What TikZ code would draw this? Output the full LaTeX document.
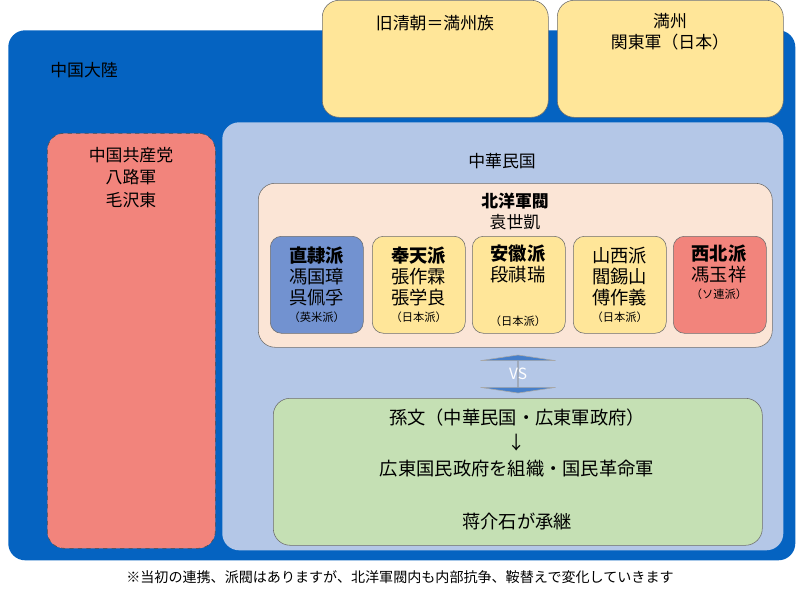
\documentclass[tikz,border=0pt]{standalone}
\usepackage{fontspec}
\setmainfont{Noto Sans CJK JP}
\usetikzlibrary{shapes.arrows,positioning}
\definecolor{landblue}{RGB}{5,99,193}
\definecolor{roclight}{RGB}{180,199,231}
\definecolor{warpeach}{RGB}{251,229,214}
\definecolor{facyellow}{RGB}{255,230,153}
\definecolor{facblue}{RGB}{114,146,208}
\definecolor{facred}{RGB}{242,132,124}
\definecolor{kmtgreen}{RGB}{197,224,180}
\definecolor{edgegray}{RGB}{110,110,110}
\begin{document}
\begin{tikzpicture}[x=0.025cm, y=-0.025cm,
    region/.style={rectangle, rounded corners=12pt, anchor=north west, inner sep=0pt},
    faction/.style={rectangle, rounded corners=8pt, draw=edgegray, anchor=north west,
        minimum width=93*0.025cm, minimum height=97*0.025cm, align=center, inner sep=2pt,
        font=\fontsize{13}{15}\selectfont},
    note/.style={font=\fontsize{7}{9}\selectfont}
]
    \useasboundingbox (0,0) rectangle (800,600);

    % Continent
    \node[region, fill=landblue, minimum width=787*0.025cm, minimum height=530*0.025cm] (land) at (8,30) {};
    \node[font=\fontsize{12}{14}\selectfont] (landlbl) at (84,70) {中国大陸};

    % Top boxes
    \node[region, fill=facyellow, draw=edgegray, minimum width=226*0.025cm, minimum height=117*0.025cm] (qing) at (322,0) {};
    \node[font=\fontsize{12}{14}\selectfont, anchor=north] (qinglbl) at (435,10) {旧清朝＝満州族};
    \node[region, fill=facyellow, draw=edgegray, minimum width=226*0.025cm, minimum height=117*0.025cm] (manchu) at (557,0) {};
    \node[font=\fontsize{12}{15}\selectfont, align=center, anchor=north] (manchulbl) at (670,8) {満州\\関東軍（日本）};

    % Communists
    \node[region, fill=facred, draw=black!70, dashed, minimum width=168*0.025cm, minimum height=415*0.025cm] (ccp) at (47,133) {};
    \node[font=\fontsize{12}{16}\selectfont, align=center, anchor=north] (ccplbl) at (131,142) {中国共産党\\八路軍\\毛沢東};

    % Republic
    \node[region, fill=roclight, minimum width=561*0.025cm, minimum height=428*0.025cm] (roc) at (222,122) {};
    \node[font=\fontsize{12}{14}\selectfont] (roclbl) at (502,161) {中華民国};

    % Beiyang
    \node[region, fill=warpeach, draw=edgegray, minimum width=514*0.025cm, minimum height=164*0.025cm] (beiyang) at (258,183) {};
    \node[font=\fontsize{12}{15}\selectfont, align=center, anchor=north] (beiyanglbl) at (515,188) {\textbf{北洋軍閥}\\袁世凱};

    \node[faction, fill=facblue] (zhili) at (270,236) {\textbf{直隷派}\\馮国璋\\呉佩孚\\[-3pt]{\fontsize{8}{9}\selectfont（英米派）}};
    \node[faction, fill=facyellow] (fengtian) at (372,236) {\textbf{奉天派}\\張作霖\\張学良\\[-3pt]{\fontsize{8}{9}\selectfont（日本派）}};
    \node[faction, fill=facyellow, align=center] (anhui) at (472,236) {};
    \node[font=\fontsize{13}{15}\selectfont, align=center, anchor=north] (anhuilbl) at (518,240) {\textbf{安徽派}\\段祺瑞};
    \node[note, font=\fontsize{8}{9}\selectfont, anchor=south] (anhuinote) at (518,332) {（日本派）};
    \node[faction, fill=facyellow] (shanxi) at (573,236) {山西派\\閻錫山\\傅作義\\[-3pt]{\fontsize{8}{9}\selectfont（日本派）}};
    \node[faction, fill=facred, align=center] (xibei) at (673,236) {};
    \node[font=\fontsize{13}{15}\selectfont, align=center, anchor=north] (xibeilbl) at (719,240) {\textbf{西北派}\\馮玉祥\\[-3pt]{\fontsize{8}{9}\selectfont（ソ連派）}};

    % Versus arrow
    \node[double arrow, shape border rotate=90, fill=facblue!60!landblue, draw=edgegray!60,
        double arrow tip angle=163, double arrow head extend=36*0.025cm,
        minimum width=75*0.025cm, minimum height=38*0.025cm,
        inner sep=0pt] (vs) at (518,374) {};
    \node[text=white, font=\fontsize{11}{13}\selectfont] (vslbl) at (518,374) {VS};

    % Guomindang
    \node[region, fill=kmtgreen, draw=edgegray, minimum width=489*0.025cm, minimum height=147*0.025cm] (kmt) at (273,398) {};
    \node[font=\fontsize{13}{18}\selectfont, align=center, anchor=north] (kmtlbl) at (517,404) {孫文（中華民国・広東軍政府）\\↓\\広東国民政府を組織・国民革命軍\\[20pt]蒋介石が承継};

    % Footnote
    \node[font=\fontsize{10}{12}\selectfont] (foot) at (400,577) {※当初の連携、派閥はありますが、北洋軍閥内も内部抗争、鞍替えで変化していきます};
\end{tikzpicture}
\end{document}
